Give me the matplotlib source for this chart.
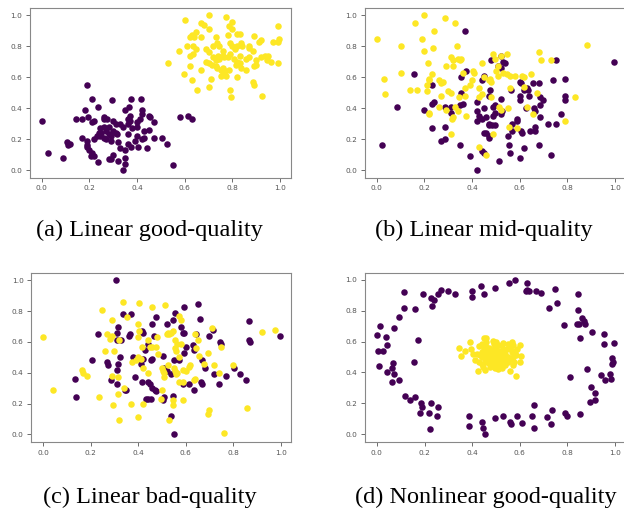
import numpy as np
import matplotlib
matplotlib.use("Agg")
from matplotlib import pyplot as plt

# (a) Linear good-quality
a_purple = [(0.00,0.32),(0.025,0.11),(0.087,0.08),(0.105,0.18),(0.11,0.16),(0.12,0.17),
            (0.145,0.33),(0.17,0.33),(0.19,0.55),(0.18,0.39),(0.17,0.21),(0.21,0.46),
            (0.235,0.41),(0.195,0.34),(0.21,0.31),(0.22,0.32),(0.19,0.15),(0.19,0.16),
            (0.20,0.13),(0.19,0.19),(0.205,0.09),(0.21,0.11),(0.235,0.05),(0.245,0.22),
            (0.25,0.24),(0.245,0.27),(0.26,0.34),(0.26,0.33),(0.275,0.33),(0.295,0.45),
            (0.30,0.32),(0.31,0.30),(0.28,0.07),(0.29,0.07),(0.32,0.06),(0.35,0.08),
            (0.35,0.04),(0.34,0.00),(0.31,0.24),(0.315,0.23),(0.35,0.39),(0.365,0.41),
            (0.375,0.46),(0.415,0.46),(0.37,0.35),(0.37,0.32),(0.36,0.17),(0.375,0.15),
            (0.39,0.19),(0.405,0.15),(0.42,0.39),(0.42,0.36),(0.43,0.25),(0.42,0.20),
            (0.43,0.21),(0.45,0.35),(0.455,0.34),(0.45,0.26),(0.47,0.21),(0.47,0.31),
            (0.505,0.21),(0.525,0.17),(0.55,0.03),(0.58,0.34),(0.615,0.35),(0.63,0.33),
            (0.26,0.28),(0.27,0.25),(0.28,0.28),(0.29,0.22),(0.27,0.20),(0.30,0.25),
            (0.32,0.18),(0.33,0.30),(0.34,0.28),(0.36,0.23),(0.38,0.27),(0.40,0.22),
            (0.40,0.28),(0.41,0.33),(0.40,0.31),(0.23,0.22),(0.22,0.20),(0.24,0.24),
            (0.26,0.21),(0.28,0.23),(0.33,0.14),(0.30,0.10),(0.29,0.19),(0.35,0.13),
            (0.44,0.14),(0.36,0.33),(0.22,0.09),(0.36,0.30)]
a_yellow = [(0.70,1.00),(0.60,0.97),(0.775,0.99),(0.80,0.96),(0.67,0.95),(0.68,0.94),
            (0.785,0.93),(0.80,0.91),(0.82,0.88),(0.83,0.88),(0.70,0.91),(0.645,0.89),
            (0.63,0.87),(0.62,0.86),(0.64,0.86),(0.67,0.86),(0.73,0.86),(0.78,0.87),
            (0.99,0.93),(0.995,0.85),(0.97,0.83),(0.99,0.83),(0.89,0.865),(0.575,0.77),
            (0.61,0.80),(0.635,0.80),(0.645,0.78),(0.69,0.78),(0.70,0.76),(0.62,0.74),
            (0.635,0.75),(0.72,0.80),(0.735,0.82),(0.745,0.80),(0.79,0.82),(0.80,0.80),
            (0.81,0.78),(0.82,0.80),(0.835,0.82),(0.84,0.80),(0.87,0.80),(0.87,0.79),
            (0.885,0.77),(0.91,0.83),(0.92,0.84),(0.92,0.73),(0.935,0.74),(0.95,0.74),
            (0.945,0.71),(0.90,0.71),(0.96,0.70),(0.83,0.74),(0.855,0.72),(0.87,0.73),
            (0.76,0.77),(0.76,0.74),(0.765,0.73),(0.78,0.73),(0.79,0.75),(0.805,0.72),
            (0.82,0.70),(0.83,0.69),(0.815,0.68),(0.69,0.70),(0.70,0.69),(0.715,0.68),
            (0.73,0.67),(0.735,0.66),(0.75,0.65),(0.76,0.66),(0.77,0.64),(0.785,0.65),
            (0.835,0.66),(0.855,0.65),(0.89,0.67),(0.90,0.68),(0.99,0.69),(0.53,0.69),
            (0.595,0.62),(0.63,0.58),(0.65,0.52),(0.70,0.54),(0.71,0.59),(0.75,0.61),
            (0.76,0.62),(0.775,0.61),(0.79,0.52),(0.795,0.47),(0.82,0.60),(0.885,0.57),
            (0.89,0.55),(0.925,0.48),(0.67,0.65),(0.72,0.73),(0.73,0.71),(0.62,0.67),
            (0.74,0.74),(0.745,0.72)]

# (b) Linear mid-quality
b_purple = [(0.02,0.16),(0.085,0.41),(0.155,0.62),(0.20,0.39),(0.23,0.55),(0.23,0.43),
            (0.24,0.44),(0.23,0.27),(0.27,0.19),(0.285,0.20),(0.285,0.28),(0.285,0.41),
            (0.31,0.41),(0.31,0.37),(0.35,0.16),(0.355,0.60),(0.355,0.50),(0.36,0.43),
            (0.35,0.42),(0.37,0.90),(0.375,0.64),(0.39,0.09),(0.42,0.00),(0.42,0.44),
            (0.42,0.38),(0.42,0.32),(0.43,0.35),(0.44,0.33),(0.44,0.58),(0.44,0.12),
            (0.45,0.11),(0.45,0.40),(0.45,0.61),(0.45,0.24),(0.46,0.24),(0.47,0.21),
            (0.47,0.22),(0.46,0.34),(0.47,0.30),(0.47,0.29),(0.475,0.52),(0.47,0.48),
            (0.48,0.71),(0.485,0.29),(0.495,0.29),(0.49,0.35),(0.495,0.37),(0.495,0.42),
            (0.49,0.41),(0.51,0.67),(0.52,0.66),(0.515,0.06),(0.52,0.74),(0.525,0.38),
            (0.52,0.36),(0.52,0.46),(0.53,0.70),(0.54,0.69),(0.555,0.16),(0.55,0.22),
            (0.56,0.11),(0.57,0.30),(0.57,0.25),(0.565,0.52),(0.59,0.33),(0.59,0.32),
            (0.60,0.57),(0.605,0.56),(0.60,0.48),(0.60,0.45),(0.605,0.25),(0.61,0.24),
            (0.60,0.08),(0.62,0.52),(0.62,0.14),(0.625,0.40),(0.63,0.53),(0.635,0.52),
            (0.64,0.48),(0.645,0.25),(0.655,0.56),(0.66,0.40),(0.665,0.38),(0.665,0.28),
            (0.665,0.25),(0.68,0.56),(0.68,0.16),(0.685,0.34),(0.685,0.47),(0.685,0.42),
            (0.70,0.45),(0.72,0.30),(0.73,0.10),(0.74,0.58),(0.755,0.71),(0.755,0.30),
            (0.775,0.36),(0.79,0.59),(0.79,0.48),(0.79,0.45),(0.997,0.70)]
b_yellow = [(0.00,0.85),(0.03,0.59),(0.035,0.49),(0.10,0.80),(0.10,0.63),(0.14,0.52),
            (0.16,0.95),(0.17,0.52),(0.19,0.85),(0.20,1.00),(0.20,0.77),(0.215,0.69),
            (0.21,0.55),(0.22,0.58),(0.22,0.59),(0.23,0.62),(0.21,0.51),(0.22,0.37),
            (0.22,0.36),(0.24,0.90),(0.235,0.79),(0.26,0.41),(0.26,0.58),(0.27,0.56),
            (0.28,0.57),(0.27,0.48),(0.285,0.98),(0.29,0.39),(0.29,0.67),(0.30,0.51),
            (0.31,0.50),(0.31,0.73),(0.32,0.71),(0.32,0.67),(0.33,0.95),(0.335,0.80),
            (0.34,0.72),(0.35,0.71),(0.355,0.72),(0.32,0.34),(0.315,0.33),(0.31,0.23),
            (0.33,0.41),(0.34,0.38),(0.345,0.47),(0.36,0.63),(0.37,0.53),(0.37,0.48),
            (0.375,0.35),(0.39,0.55),(0.40,0.58),(0.405,0.64),(0.41,0.63),(0.43,0.15),
            (0.43,0.53),(0.44,0.49),(0.43,0.47),(0.44,0.69),(0.45,0.60),(0.46,0.10),
            (0.47,0.58),(0.475,0.59),(0.48,0.57),(0.48,0.47),(0.49,0.23),(0.49,0.75),
            (0.495,0.72),(0.50,0.64),(0.51,0.67),(0.51,0.61),(0.515,0.41),(0.52,0.39),
            (0.52,0.74),(0.545,0.75),(0.53,0.63),(0.545,0.62),(0.56,0.61),(0.58,0.61),
            (0.55,0.40),(0.555,0.28),(0.56,0.53),(0.59,0.27),(0.61,0.61),(0.62,0.60),
            (0.62,0.54),(0.63,0.41),(0.65,0.62),(0.655,0.36),(0.675,0.50),(0.68,0.76),
            (0.69,0.71),(0.73,0.71),(0.79,0.32),(0.835,0.47),(0.885,0.81)]

# (c) Linear bad-quality
c_purple = [(0.305,1.00),(0.135,0.36),(0.14,0.24),(0.205,0.48),(0.23,0.65),(0.27,0.47),
            (0.275,0.45),(0.285,0.35),(0.31,0.33),(0.31,0.66),(0.315,0.70),(0.31,0.61),
            (0.31,0.42),(0.315,0.46),(0.325,0.50),(0.335,0.78),(0.33,0.61),(0.345,0.29),
            (0.35,0.29),(0.36,0.64),(0.365,0.65),(0.37,0.78),(0.385,0.37),(0.38,0.50),
            (0.415,0.34),(0.415,0.67),(0.42,0.66),(0.42,0.49),(0.41,0.46),(0.43,0.55),
            (0.44,0.59),(0.44,0.34),(0.45,0.33),(0.435,0.23),(0.44,0.23),(0.455,0.23),
            (0.455,0.48),(0.46,0.49),(0.46,0.72),(0.465,0.64),(0.46,0.30),(0.47,0.29),
            (0.475,0.28),(0.475,0.76),(0.505,0.22),(0.51,0.24),(0.505,0.51),(0.51,0.43),
            (0.52,0.41),(0.52,0.72),(0.54,0.12),(0.54,0.39),(0.545,0.74),(0.55,0.48),
            (0.545,0.25),(0.55,0.00),(0.555,0.79),(0.57,0.48),(0.58,0.70),(0.59,0.66),
            (0.595,0.66),(0.59,0.33),(0.595,0.83),(0.60,0.57),(0.595,0.53),(0.615,0.33),
            (0.635,0.29),(0.63,0.58),(0.635,0.55),(0.645,0.65),(0.65,0.85),(0.66,0.75),
            (0.665,0.34),(0.67,0.33),(0.67,0.48),(0.68,0.43),(0.70,0.64),(0.715,0.68),
            (0.72,0.39),(0.74,0.33),(0.745,0.60),(0.75,0.59),(0.77,0.38),(0.805,0.43),
            (0.83,0.39),(0.855,0.35),(0.865,0.735),(0.865,0.61),(0.87,0.60),(0.995,0.64)]
c_yellow = [(0.00,0.63),(0.04,0.29),(0.165,0.42),(0.17,0.40),(0.185,0.38),(0.235,0.24),
            (0.25,0.81),(0.26,0.54),(0.27,0.65),(0.28,0.62),(0.29,0.64),(0.29,0.74),
            (0.29,0.38),(0.295,0.19),(0.30,0.54),(0.315,0.37),(0.315,0.26),(0.32,0.095),
            (0.32,0.61),(0.335,0.86),(0.34,0.30),(0.355,0.76),(0.37,0.20),(0.375,0.47),
            (0.39,0.48),(0.40,0.50),(0.41,0.49),(0.40,0.11),(0.40,0.72),(0.405,0.855),
            (0.40,0.63),(0.405,0.67),(0.415,0.57),(0.42,0.20),(0.42,0.43),(0.44,0.61),
            (0.44,0.40),(0.45,0.57),(0.46,0.57),(0.475,0.57),(0.46,0.83),(0.48,0.63),
            (0.485,0.52),(0.495,0.23),(0.50,0.43),(0.505,0.41),(0.51,0.40),(0.50,0.29),
            (0.51,0.37),(0.515,0.84),(0.52,0.65),(0.525,0.66),(0.53,0.65),(0.525,0.45),
            (0.53,0.09),(0.54,0.66),(0.545,0.67),(0.545,0.22),(0.545,0.19),(0.55,0.43),
            (0.555,0.41),(0.56,0.39),(0.565,0.40),(0.555,0.56),(0.56,0.54),(0.565,0.59),
            (0.555,0.61),(0.57,0.34),(0.57,0.50),(0.58,0.59),(0.57,0.77),(0.58,0.74),
            (0.59,0.22),(0.59,0.42),(0.59,0.34),(0.60,0.41),(0.615,0.44),(0.62,0.45),
            (0.635,0.35),(0.64,0.36),(0.64,0.65),(0.645,0.56),(0.65,0.61),(0.655,0.51),
            (0.675,0.46),(0.695,0.53),(0.695,0.13),(0.70,0.16),(0.71,0.69),(0.72,0.45),
            (0.74,0.40),(0.75,0.57),(0.76,0.01),(0.80,0.45),(0.86,0.17),(0.92,0.665),
            (0.975,0.68)]

# (d) Nonlinear good-quality
d_purple = [(0.00,0.64),(0.003,0.54),(0.01,0.44),(0.014,0.70),(0.024,0.54),(0.038,0.63),
            (0.042,0.58),(0.041,0.40),(0.063,0.43),(0.066,0.46),(0.063,0.34),(0.073,0.69),
            (0.073,0.39),(0.092,0.76),(0.092,0.35),(0.113,0.82),(0.115,0.92),(0.12,0.25),
            (0.14,0.22),(0.158,0.81),(0.154,0.47),(0.16,0.24),(0.172,0.61),(0.18,0.14),
            (0.186,0.20),(0.19,0.175),(0.193,0.91),(0.218,0.14),(0.225,0.035),(0.228,0.88),
            (0.238,0.87),(0.228,0.20),(0.232,0.83),(0.252,0.12),(0.256,0.175),(0.256,0.905),
            (0.268,0.935),(0.30,0.925),(0.327,0.91),(0.386,0.12),(0.385,0.055),(0.40,0.925),
            (0.40,0.89),(0.437,0.96),(0.44,0.08),(0.445,0.04),(0.45,0.91),(0.453,0.00),
            (0.496,0.945),(0.496,0.105),(0.53,0.115),(0.556,0.98),(0.56,0.08),(0.563,0.065),
            (0.58,0.995),(0.59,0.12),(0.61,0.07),(0.625,0.925),(0.63,0.935),(0.632,0.98),
            (0.64,0.925),(0.65,0.12),(0.66,0.19),(0.66,0.04),(0.669,0.925),(0.69,0.915),
            (0.714,0.11),(0.724,0.82),(0.73,0.065),(0.735,0.155),(0.749,0.94),(0.758,0.85),
            (0.787,0.71),(0.79,0.14),(0.80,0.12),(0.81,0.37),(0.845,0.905),(0.845,0.805),
            (0.84,0.715),(0.855,0.13),(0.855,0.62),(0.862,0.75),(0.869,0.73),(0.85,0.715),
            (0.875,0.715),(0.883,0.425),(0.904,0.66),(0.90,0.305),(0.894,0.21),(0.917,0.27),
            (0.917,0.22),(0.94,0.385),(0.953,0.585),(0.956,0.65),(0.96,0.35),(0.98,0.39),
            (0.982,0.355),(0.986,0.495),(0.988,0.455),(0.993,0.47),(0.996,0.59)]
d_yellow = [(0.345,0.56),(0.352,0.505),(0.37,0.54),(0.39,0.60),(0.397,0.55),(0.405,0.52),
            (0.41,0.48),(0.425,0.41),(0.44,0.585),(0.45,0.62),(0.458,0.625),(0.432,0.51),
            (0.44,0.50),(0.446,0.52),(0.454,0.49),(0.44,0.455),(0.446,0.435),(0.454,0.415),
            (0.46,0.565),(0.468,0.54),(0.472,0.52),(0.475,0.49),(0.48,0.465),(0.49,0.585),
            (0.496,0.55),(0.50,0.53),(0.503,0.50),(0.51,0.475),(0.514,0.455),(0.517,0.54),
            (0.524,0.575),(0.53,0.52),(0.538,0.50),(0.542,0.475),(0.496,0.43),(0.51,0.425),
            (0.524,0.43),(0.545,0.55),(0.552,0.585),(0.56,0.565),(0.566,0.53),(0.573,0.575),
            (0.58,0.54),(0.566,0.60),(0.573,0.50),(0.576,0.465),(0.60,0.575),(0.605,0.505),
            (0.56,0.41),(0.583,0.375),(0.475,0.435),(0.486,0.605),(0.46,0.52),(0.47,0.50),
            (0.48,0.51),(0.49,0.50),(0.50,0.48),(0.51,0.51),(0.52,0.50),(0.53,0.49),
            (0.49,0.55),(0.48,0.54),(0.47,0.56),(0.50,0.56),(0.51,0.58),(0.52,0.53),
            (0.53,0.55),(0.54,0.52),(0.55,0.50),(0.56,0.49),(0.46,0.47),(0.47,0.46),
            (0.48,0.44),(0.50,0.45),(0.52,0.46),(0.54,0.45),(0.55,0.47),(0.44,0.53),
            (0.45,0.55),(0.43,0.57),(0.42,0.52),(0.43,0.47),(0.46,0.60),(0.50,0.60),
            (0.53,0.59),(0.56,0.56),(0.585,0.51),(0.59,0.55),(0.57,0.45),(0.60,0.47),
            (0.49,0.47),(0.51,0.44)]

captions = ["(a) Linear good-quality", "(b) Linear mid-quality",
            "(c) Linear bad-quality", "(d) Nonlinear good-quality"]
panels = [(a_purple, a_yellow), (b_purple, b_yellow),
          (c_purple, c_yellow), (d_purple, d_yellow)]
ticks = [0.0, 0.2, 0.4, 0.6, 0.8, 1.0]

# axes rectangles in figure fractions (left, bottom, width, height)
rects = [(0.048, 0.650, 0.418, 0.335), (0.585, 0.650, 0.418, 0.335),
         (0.050, 0.130, 0.417, 0.333), (0.585, 0.130, 0.418, 0.333)]
cap_pos = [(0.240, 0.546), (0.776, 0.546), (0.240, 0.020), (0.779, 0.020)]

purple = plt.cm.viridis(0.0)
yellow = plt.cm.viridis(1.0)

fig = plt.figure(figsize=(6.24, 5.08), dpi=100)
for (p, y), rect, cap, cp in zip(panels, rects, captions, cap_pos):
    ax = fig.add_axes(rect)
    p = np.array(p); y = np.array(y)
    ax.scatter(p[:, 0], p[:, 1], s=22, color=purple, linewidths=0)
    ax.scatter(y[:, 0], y[:, 1], s=22, color=yellow, linewidths=0)
    ax.set_xticks(ticks)
    ax.set_yticks(ticks)
    ax.set_xticklabels([f"{t:.1f}" for t in ticks])
    ax.set_yticklabels([f"{t:.1f}" for t in ticks])
    ax.tick_params(labelsize=5.3, colors="#555555", length=3, width=0.6, pad=2.5)
    for s in ax.spines.values():
        s.set_color("#888888")
        s.set_linewidth(0.8)
    fig.text(cp[0], cp[1], cap, ha="center", va="center",
             family="Liberation Serif", fontsize=17.5)

fig.savefig("out.png", dpi=100)
